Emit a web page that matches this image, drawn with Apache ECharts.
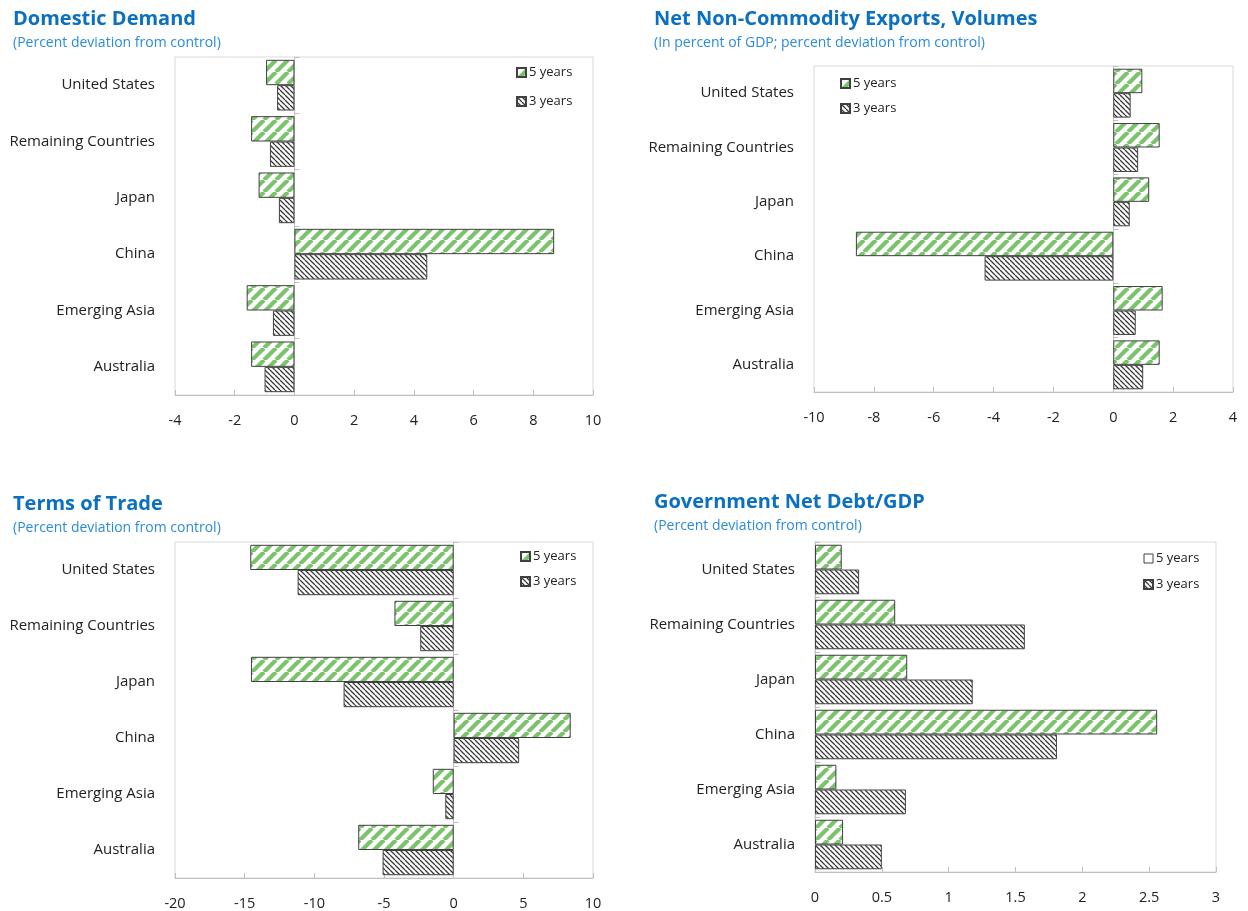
<!DOCTYPE html>
<html>
<head>
<meta charset="utf-8">
<script src="https://cdn.jsdelivr.net/npm/echarts@6/dist/echarts.min.js"></script>
<style>html,body{margin:0;padding:0;background:#fff}#c{width:1248px;height:911px}</style>
</head>
<body>
<div id="c"></div>
<script>
const categories = ['United States','Remaining Countries','Japan','China','Emerging Asia','Australia'];
const seriesNames = ['5 years','3 years'];
// Domestic Demand
const dd5 = [-0.95, -1.45, -1.2, 8.7, -1.6, -1.45];
const dd3 = [-0.58, -0.82, -0.52, 4.45, -0.72, -1.0];
// Net Non-Commodity Exports, Volumes
const nx5 = [0.97, 1.55, 1.2, -8.6, 1.65, 1.55];
const nx3 = [0.58, 0.83, 0.55, -4.3, 0.75, 1.0];
// Terms of Trade
const tt5 = [-14.6, -4.25, -14.55, 8.4, -1.5, -6.85];
const tt3 = [-11.2, -2.4, -7.9, 4.7, -0.6, -5.1];
// Government Net Debt/GDP
const gd5 = [0.2, 0.6, 0.69, 2.56, 0.16, 0.21];
const gd3 = [0.33, 1.57, 1.18, 1.81, 0.68, 0.5];

const titles = ['Domestic Demand','Net Non-Commodity Exports, Volumes','Terms of Trade','Government Net Debt/GDP'];
const subtitles = ['(Percent deviation from control)','(In percent of GDP; percent deviation from control)','(Percent deviation from control)','(Percent deviation from control)'];
const axisRanges = [[-4,10,2],[-10,4,2],[-20,10,5],[0,3,0.5]];

function hatch(size, color, lw, dir) {
  const c = document.createElement('canvas');
  c.width = size; c.height = size;
  const g = c.getContext('2d');
  g.fillStyle = '#fff'; g.fillRect(0,0,size,size);
  g.strokeStyle = color; g.lineWidth = lw;
  g.beginPath();
  for (let k=-1;k<=1;k++){
    if (dir === '/') { g.moveTo(k*size, size); g.lineTo(k*size+size, 0); }
    else { g.moveTo(k*size, 0); g.lineTo(k*size+size, size); }
  }
  g.stroke();
  return c;
}
const greenPat = {image: hatch(12, '#7cc36e', 4.2, '/'), repeat: 'repeat'};
const darkPat = {image: hatch(5, '#3a3a3a', 1.3, '\\'), repeat: 'repeat'};

const grids = [
  {left:175, top:57, width:418, height:338},
  {left:814, top:66, width:419, height:326},
  {left:175, top:542, width:418, height:336},
  {left:815, top:542, width:401, height:330}
];
const titlePos = [{left:13, top:7},{left:654, top:7},{left:13, top:492},{left:654, top:490}];
const legendPos = [{left:516, top:66, gap:16},{left:840, top:77, gap:12},{left:520, top:550, gap:12},{left:1143, top:552, gap:13}];
const dataSets = [[dd5,dd3],[nx5,nx3],[tt5,tt3],[gd5,gd3]];

const FONT = 'Open Sans';
const option = {
  animation: false,
  textStyle: {fontFamily: FONT},
  title: titles.map((t,i)=>({
    text: t, subtext: subtitles[i], left: titlePos[i].left, top: titlePos[i].top,
    padding: 0, itemGap: 3,
    textStyle: {fontFamily: FONT, fontSize: 20, fontWeight: 'bold', color: '#0b6fc2', lineHeight: 24},
    subtextStyle: {fontFamily: FONT, fontSize: 14, color: '#2a8bdb', lineHeight: 18}
  })),
  legend: legendPos.map((p,i)=>({
    orient: 'vertical', left: p.left, top: p.top, itemGap: p.gap,
    itemWidth: 9, itemHeight: 9, padding: 0, icon: 'rect',
    textStyle: {fontFamily: FONT, fontSize: 13, color: '#222', padding:[0,0,0,-2]},
    data: i===3 ? [{name:'5 years', itemStyle:{color:'#fff', borderColor:'#404040', borderWidth:1}}, {name:'3 years'}] : seriesNames,
    selectedMode: false
  })),
  grid: grids.map(g=>Object.assign({show:true, borderColor:'#d9d9d9', borderWidth:1, containLabel:false}, g)),
  xAxis: axisRanges.map((r,i)=>({
    type:'value', gridIndex:i, min:r[0], max:r[1], interval:r[2],
    axisLine:{show:true, onZero:false, lineStyle:{color:'#bfbfbf'}},
    axisTick:{show:true, inside:true, length:5, lineStyle:{color:'#bfbfbf'}},
    splitLine:{show:false},
    axisLabel:{fontFamily:FONT, fontSize:14.5, color:'#222', margin:18}
  })),
  yAxis: [],
  series: []
};
for (let i=0;i<4;i++){
  option.yAxis.push({
    type:'category', gridIndex:i, data:categories, inverse:true,
    axisLine:{show:true, onZero:true, lineStyle:{color:'#bfbfbf'}},
    axisTick:{show:true, inside:true, length:5, lineStyle:{color:'#bfbfbf'}},
    axisLabel:{show:false}
  });
}
for (let i=0;i<4;i++){
  option.yAxis.push({
    type:'category', gridIndex:i, data:categories, inverse:true, position:'left',
    axisLine:{show:false}, axisTick:{show:false},
    axisLabel:{fontFamily:FONT, fontSize:15, color:'#222', margin:20, padding:[8,0,0,0]}
  });
}
for (let i=0;i<4;i++){
  const [d5,d3] = dataSets[i];
  option.series.push({
    name:'5 years', type:'bar', xAxisIndex:i, yAxisIndex:i, data:d5,
    barWidth:'45%', barGap:'0%',
    itemStyle:{color:greenPat, borderColor:'#404040', borderWidth:1}
  });
  option.series.push({
    name:'3 years', type:'bar', xAxisIndex:i, yAxisIndex:i, data:d3,
    barWidth:'45%', barGap:'0%',
    itemStyle:{color:darkPat, borderColor:'#404040', borderWidth:1}
  });
}
const chart = echarts.init(document.getElementById('c'), null, {renderer:'canvas'});
chart.setOption(option);
</script>
</body>
</html>
